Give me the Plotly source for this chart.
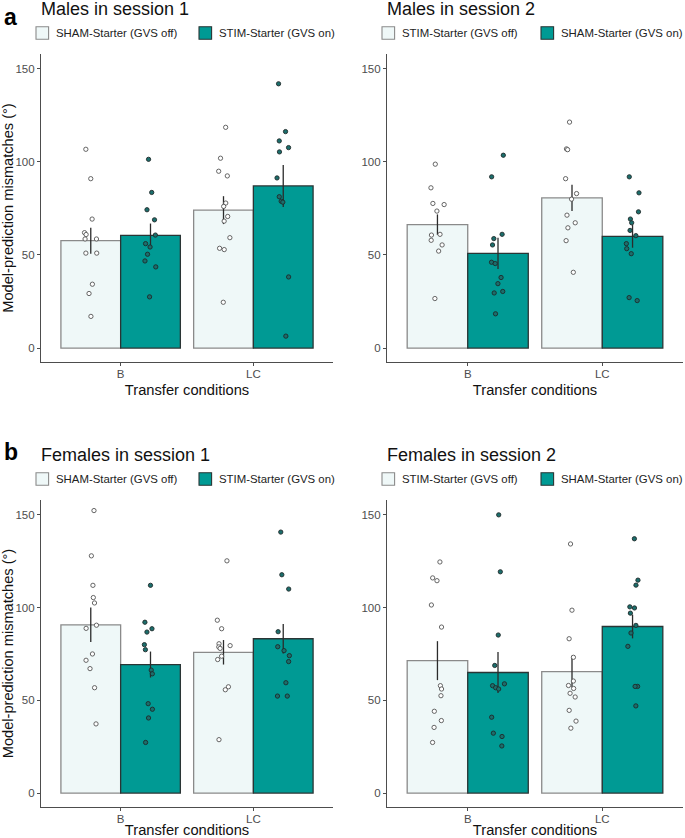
import numpy as np
import plotly.graph_objects as go

# conditions on the x axis
conditions = ["B", "LC"]

# ---- Males, session 1 (light = SHAM-Starter GVS off, teal = STIM-Starter GVS on)
m1_light_B = [106.8, 91, 69.3, 62, 61, 58.6, 58.6, 51, 51, 34.3, 29.3, 17]
m1_teal_B = [101.4, 83.6, 74.3, 68.9, 60.7, 56.1, 54.3, 50.4, 46.8, 43.6, 27.5]
m1_light_LC = [118.6, 102, 95, 92.5, 77.9, 76.1, 70.7, 68.2, 59.3, 53.6, 52.9, 24.6]
m1_teal_LC = [142, 116.3, 111.3, 107.7, 105.4, 91.4, 81.3, 78.9, 78.4, 38.2, 6.4]
m1_light_mean = [57.7, 74.1]
m1_teal_mean = [60.5, 87.1]
m1_light_se = [7.0, 7.5]
m1_teal_se = [6.4, 11.3]

# ---- Males, session 2 (light = STIM-Starter GVS off, teal = SHAM-Starter GVS on)
m2_light_B = [98.8, 86.1, 77.7, 77.1, 73.6, 61.1, 60.7, 57.9, 55.4, 52.1, 26.6]
m2_teal_B = [103.6, 92, 61.1, 58.8, 55.4, 46.1, 45.4, 37.9, 34.6, 30.4, 29.6, 18.4]
m2_light_LC = [121.4, 107, 106.6, 91, 83, 80, 71.4, 67.3, 64.6, 57.7, 40.7]
m2_teal_LC = [92, 83.4, 73.2, 69.3, 67.3, 63.2, 60.4, 56.1, 53.4, 50.7, 27.1, 25.5]
m2_light_mean = [66.3, 80.7]
m2_teal_mean = [50.9, 60.0]
m2_light_se = [5.5, 7.1]
m2_teal_se = [8.4, 6.1]

# ---- Females, session 1
f1_light_B = [152.3, 127.9, 112, 105.4, 102.5, 90.5, 88.8, 75, 71.6, 67.1, 56.8, 37.3]
f1_teal_B = [112, 92.1, 88.6, 86.8, 80, 77.3, 66.3, 64.3, 48.2, 45.2, 40.5, 27.3]
f1_light_LC = [125.2, 93.2, 88.6, 80.5, 79.5, 78.8, 78, 73.8, 72, 57.3, 55.7, 28.8]
f1_teal_LC = [140.7, 117.7, 110, 87, 78.9, 76.8, 74.1, 70.9, 59.5, 52.3, 52.3]
f1_light_mean = [90.7, 75.9]
f1_teal_mean = [69.3, 83.2]
f1_light_se = [9.3, 6.6]
f1_teal_se = [7.0, 8.0]

# ---- Females, session 2
f2_light_B = [124.6, 116, 114.5, 101.4, 89.5, 57.9, 56.1, 52.5, 44.1, 39.1, 35.4, 27.3]
f2_teal_B = [150, 119.3, 85.2, 68.8, 58.9, 57.9, 56.8, 56.1, 40.9, 32.3, 30.5, 25.4]
f2_light_LC = [134.3, 98.6, 83.2, 73.2, 60.4, 58, 56.4, 53.8, 51.8, 44.6, 38.8, 35]
f2_teal_LC = [137.1, 114.8, 112.1, 100.4, 99.8, 97, 90.4, 86.3, 79.1, 57.5, 57.5, 47]
f2_light_mean = [71.4, 65.5]
f2_teal_mean = [65.0, 89.8]
f2_light_se = [10.5, 8.6]
f2_teal_se = [11.1, 6.4]

titles = ["Males in session 1", "Males in session 2",
          "Females in session 1", "Females in session 2"]
light_names = ["SHAM-Starter (GVS off)", "STIM-Starter (GVS off)",
               "SHAM-Starter (GVS off)", "STIM-Starter (GVS off)"]
teal_names = ["STIM-Starter (GVS on)", "SHAM-Starter (GVS on)",
              "STIM-Starter (GVS on)", "SHAM-Starter (GVS on)"]

panels = [
    (m1_light_B, m1_light_LC, m1_teal_B, m1_teal_LC, m1_light_mean, m1_teal_mean, m1_light_se, m1_teal_se),
    (m2_light_B, m2_light_LC, m2_teal_B, m2_teal_LC, m2_light_mean, m2_teal_mean, m2_light_se, m2_teal_se),
    (f1_light_B, f1_light_LC, f1_teal_B, f1_teal_LC, f1_light_mean, f1_teal_mean, f1_light_se, f1_teal_se),
    (f2_light_B, f2_light_LC, f2_teal_B, f2_teal_LC, f2_light_mean, f2_teal_mean, f2_light_se, f2_teal_se),
]

W, H = 685, 838
LIGHT = "#EFF8F8"
TEAL = "#009A94"
LIGHT_EDGE = "#8A8A8A"
TEAL_EDGE = "#2A3535"
FONT = "Liberation Sans, Arial, sans-serif"
DODGE = 0.225
BARW = 0.45

# panel boxes in pixels: (left, right, top, bottom)
boxes = [(41, 333, 54, 362), (387, 683, 54, 362),
         (41, 333, 500, 807), (387, 683, 500, 807)]
# x offset of the second legend key from the panel's left edge
key2_offset = [158, 154, 158, 154]


def px(x):
    return x / W


def py(y):
    return 1 - y / H


rng = np.random.default_rng(11)
centers = np.arange(1, len(conditions) + 1)

fig = go.Figure()
layout = {}
annotations = []
shapes = []

for i, (lb, llc, tb, tlc, lmean, tmean, lse, tse) in enumerate(panels):
    k = i + 1
    xa = "x" if k == 1 else f"x{k}"
    ya = "y" if k == 1 else f"y{k}"

    fig.add_trace(go.Bar(
        x=centers - DODGE, y=lmean, width=BARW, name=light_names[i],
        marker=dict(color=LIGHT, line=dict(color=LIGHT_EDGE, width=1.3)),
        error_y=dict(type="data", array=lse, width=0, thickness=1.3, color="#2B2B2B"),
        xaxis=xa, yaxis=ya, showlegend=False))
    fig.add_trace(go.Bar(
        x=centers + DODGE, y=tmean, width=BARW, name=teal_names[i],
        marker=dict(color=TEAL, line=dict(color=TEAL_EDGE, width=1.3)),
        error_y=dict(type="data", array=tse, width=0, thickness=1.3, color="#2B2B2B"),
        xaxis=xa, yaxis=ya, showlegend=False))

    # individual points, jittered around each bar
    for vals_by_cond, off, fill, edge in [((lb, llc), -DODGE, "#FFFFFF", "#555555"),
                                          ((tb, tlc), DODGE, "#1B6E6C", "#1F2A2A")]:
        for c, vals in zip(centers, vals_by_cond):
            jit = rng.uniform(-0.05, 0.05, len(vals))
            fig.add_trace(go.Scatter(
                x=c + off + jit, y=vals, mode="markers",
                marker=dict(size=4.3, color=fill, line=dict(color=edge, width=0.9)),
                xaxis=xa, yaxis=ya, showlegend=False, hoverinfo="y"))

    l, r, t, b = boxes[i]
    xkey = "xaxis" if k == 1 else f"xaxis{k}"
    ykey = "yaxis" if k == 1 else f"yaxis{k}"
    layout[xkey] = dict(
        domain=[px(l), px(r)], anchor=ya, range=[0.4, 2.6], automargin=False,
        tickvals=list(centers), ticktext=conditions,
        showline=True, linecolor="#4D4D4D", linewidth=1.1,
        ticks="outside", ticklen=3, tickcolor="#4D4D4D", tickwidth=1,
        ticklabelstandoff=-2,
        tickfont=dict(size=11.5, color="#4D4D4D"), showgrid=False, zeroline=False,
        title=dict(text="Transfer conditions", font=dict(size=14.7, color="#111111"), standoff=5))
    layout[ykey] = dict(
        domain=[py(b), py(t)], anchor=xa, range=[-7.5, 158], automargin=False,
        tickvals=[0, 50, 100, 150],
        showline=True, linecolor="#4D4D4D", linewidth=1.1,
        ticks="outside", ticklen=3, tickcolor="#4D4D4D", tickwidth=1,
        tickfont=dict(size=11.5, color="#4D4D4D"), showgrid=False, zeroline=False)
    if i % 2 == 0:
        layout[ykey]["title"] = dict(text="Model-prediction mismatches (°)",
                                     font=dict(size=14.6, color="#111111"), standoff=4)

    # panel title
    annotations.append(dict(
        text=titles[i], x=px(l - 2), y=py(t - 45), xref="paper", yref="paper",
        xanchor="left", yanchor="middle", showarrow=False,
        font=dict(size=18, color="#111111")))

    # legend drawn above each panel: key square + label
    ly = t - 21
    for bx, name, fill, edge in [(l - 5, light_names[i], LIGHT, LIGHT_EDGE),
                                 (l + key2_offset[i], teal_names[i], TEAL, TEAL_EDGE)]:
        shapes.append(dict(type="rect", xref="paper", yref="paper",
                           x0=px(bx), x1=px(bx + 12.6), y0=py(ly + 6.3), y1=py(ly - 6.3),
                           fillcolor=fill, line=dict(color=edge, width=1.1)))
        annotations.append(dict(
            text=name, x=px(bx + 18), y=py(ly), xref="paper", yref="paper",
            xanchor="left", yanchor="middle", showarrow=False,
            font=dict(size=11.4, color="#222222")))

annotations.append(dict(text="<b>a</b>", x=px(2), y=py(17), xref="paper", yref="paper",
                        xanchor="left", yanchor="middle", showarrow=False,
                        font=dict(size=23, color="#000000")))
annotations.append(dict(text="<b>b</b>", x=px(2), y=py(452), xref="paper", yref="paper",
                        xanchor="left", yanchor="middle", showarrow=False,
                        font=dict(size=23, color="#000000")))

fig.update_layout(
    width=W, height=H, margin=dict(l=0, r=0, t=0, b=0),
    paper_bgcolor="white", plot_bgcolor="white",
    font=dict(family=FONT), barmode="overlay", showlegend=False,
    annotations=annotations, shapes=shapes, **layout)

# drop the page's default body margin so the figure sits at the window's corner
fig.write_html("out.html", config={"displayModeBar": False},
               post_script="document.body.style.margin='0';")
